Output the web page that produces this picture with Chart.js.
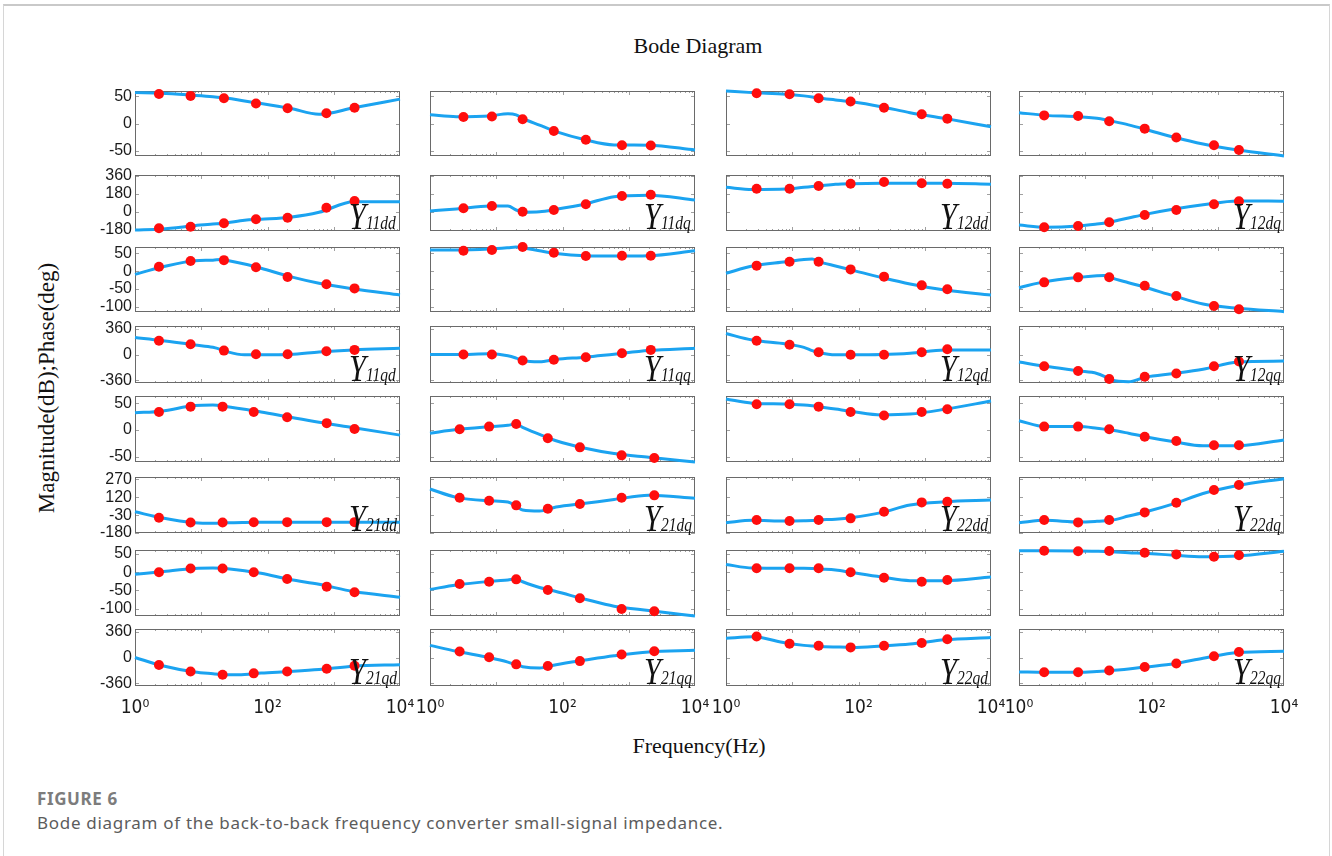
<!DOCTYPE html>
<html>
<head>
<meta charset="utf-8">
<title>Bode Diagram</title>
<script src="https://cdn.jsdelivr.net/npm/chart.js@4.4.0/dist/chart.umd.min.js"></script>
<style>
  body { margin: 0; width: 1332px; height: 856px; position: relative; overflow: hidden; background: #fff; }
  .frame { position: absolute; left: 3px; top: 4px; width: 1325px; height: 880px; border: 1px solid #d6d6d6; border-top: 2px solid #c9c9c9; }
  canvas { position: absolute; }
  .serif { position: absolute; font-family: "Liberation Serif", "Times New Roman", serif; color: #111; white-space: nowrap; }
  .ylab { position: absolute; font-family: "Liberation Serif", "Times New Roman", serif; font-style: italic; color: #111; white-space: nowrap; transform: scaleX(0.8); transform-origin: left top; }
  .caption { position: absolute; left: 37px; font-family: "Noto Sans", "Open Sans", sans-serif; white-space: nowrap; }
</style>
</head>
<body>
<div class="frame"></div>
<div class="serif" style="left:698px; top:35px; font-size:22px; line-height:22px; transform:translateX(-50%);">Bode Diagram</div>
<div class="serif" style="left:699px; top:735px; font-size:22px; line-height:22px; transform:translateX(-50%);">Frequency(Hz)</div>
<div class="serif" style="left:46px; top:388px; font-size:23px; line-height:23px; transform:translate(-50%,-50%) rotate(-90deg);">Magnitude(dB);Phase(deg)</div>
<div class="caption" style="top:787px; font-size:17px; font-weight:700; color:#7c7c7c; letter-spacing:0.6px;">FIGURE 6</div>
<div class="caption" style="top:811px; font-size:17px; color:#5c5c5c; letter-spacing:0.7px;">Bode diagram of the back-to-back frequency converter small-signal impedance.</div>

<script>
var freqCurve = [1, 2.5, 8, 15, 20, 25, 45, 80, 220, 600, 2000, 10000];
// frequencies of the red markers, per column (upper two blocks / lower two blocks)
var dotFreqTop = [
  [2.3, 6.9, 22, 67, 201, 775, 2060],
  [3.2, 8.6, 25, 74, 225, 790, 2150],
  [2.9, 9.1, 25, 76, 243, 900, 2190],
  [2.4, 7.8, 23, 79, 237, 877, 2090]
];
var dotFreqBottom = [
  [2.3, 6.9, 21, 62, 198, 783, 2060],
  [2.8, 7.8, 20, 60, 183, 780, 2430],
  [2.9, 9.1, 25, 76, 243, 900, 2190],
  [2.4, 7.8, 23, 79, 237, 877, 2090]
];

var xTickValues = [1, 100, 10000];
var xTickLabels = ['10\u2070', '10\u00b2', '10\u2074'];

// y range and ticks of each of the 8 rows (mag, phase, mag, phase ...)
var yRange = [[-60, 60], [-190, 365], [-115, 68], [-395, 395], [-60, 64], [-180, 290], [-120, 61], [-395, 395]];
var yTicks = [[-50, 0, 50], [-180, 0, 180, 360], [-100, -50, 0, 50], [-360, 0, 360],
              [-50, 0, 50], [-180, -30, 120, 270], [-100, -50, 0, 50], [-360, 0, 360]];

// magnitude (dB) / phase (deg) curves and markers
var mag11dd = [57, 56, 52, 49.5, 48, 46.5, 41.5, 37, 28, 17, 29, 45];
var mag11ddDots = [54.5, 51, 46.5, 37, 28, 19, 29];
var ph11dd = [-180, -170, -137, -120, -116, -108, -84, -74, -54, -5, 100, 100];
var ph11ddDots = [-163, -147, -114, -74, -58, 41, 107];

var mag11dq = [16, 12.5, 14, 18, 16, 9.5, -3, -15, -30, -39.5, -40, -49];
var mag11dqDots = [12, 13, 8, -14, -30, -40, -40.5];
var ph11dq = [8, 28, 58, 58, 18, -3, 1, 25, 78, 150, 165, 117];
var ph11dqDots = [35, 58, 1, 18, 75, 157, 170];

var mag12dd = [60, 57, 54, 51, 49, 47, 43.5, 40, 31, 20, 9.5, -6];
var mag12ddDots = [56, 54, 46.5, 40.5, 29, 17, 9];
var ph12dd = [243, 222, 226, 243, 250, 256, 273, 279, 283, 283, 283, 273];
var ph12ddDots = [229, 229, 256, 279, 295, 283, 279];

var mag12dq = [20, 15, 12.5, 9.5, 7, 4.5, -2.5, -10.5, -25.5, -38, -49, -60];
var mag12dqDots = [15, 14, 4, -9.5, -26, -40, -49];
var ph12dq = [-131, -153, -140, -121, -110, -98, -61, -25, 28, 70, 108, 105];
var ph12dqDots = [-153, -140, -104, -31, 18, 75, 105];

var mag11qd = [-9, 11, 29.5, 31, 33, 30, 20, 8, -15.5, -34, -50, -67];
var mag11qdDots = [12.5, 28.5, 31, 11, -16.5, -37, -48.5];
var ph11qd = [236, 195, 132, 100, 68, 36, -4, -4, 0, 36, 64, 86];
var ph11qdDots = [191, 141, 54, 4, 4, 45, 64];

var mag11qq = [59.5, 59.5, 62.5, 66, 68, 66, 57.5, 50, 43.5, 42.5, 43.5, 57.5];
var mag11qqDots = [57.5, 59.5, 68, 52, 42.5, 43.5, 43.5];
var ph11qq = [0, 0, 9, -18, -50, -82, -100, -68, -37, 5, 54, 86];
var ph11qqDots = [0, 0, -82, -73, -37, 18, 64];

var mag12qd = [-6, 14.5, 26.5, 33, 34, 27, 14.5, 3, -17.5, -36, -53, -67];
var mag12qdDots = [15.5, 26.5, 26.5, 5, -15.5, -40, -51];
var ph12qd = [290, 200, 146, 99, 54, 28, -4, -4, 0, 18, 63, 64];
var ph12qdDots = [191, 136, 32, -4, -4, 32, 72];

var mag12qq = [-46.5, -29.5, -17.5, -13, -12, -19, -32.5, -45.5, -70, -92.5, -104.5, -114];
var mag12qqDots = [-31.5, -17.5, -17, -41, -70, -98, -107.5];
var ph12qq = [-105, -164, -228, -263, -309, -354, -377, -315, -263, -204, -105, -91];
var ph12qqDots = [-164, -228, -340, -309, -263, -164, -96];

var mag21dd = [32.5, 35.5, 46, 47, 46, 44, 39, 34, 24, 14.5, 4.5, -9.5];
var mag21ddDots = [34, 44, 44, 34, 24, 13, 2];
var ph21dd = [-2, -52, -94, -99, -97, -94, -91, -90, -89, -89, -89, -89];
var ph21ddDots = [-52, -92, -92, -90, -89, -89, -89];

var mag21dq = [-6, 1, 6.5, 9, 11.5, 5, -8, -20, -34, -44, -51, -60];
var mag21dqDots = [1.5, 6.5, 11.5, -15.5, -32.5, -47.5, -52.5];
var ph21dq = [189, 119, 91, 80, 45, 13, 5, 38, 69, 101, 136, 111];
var ph21dqDots = [116, 91, 52, 24, 63, 116, 136];

var mag22dd = [58.5, 50.5, 49, 47, 45.5, 44, 39.5, 35, 28.5, 30, 39, 54.5];
var mag22ddDots = [48.5, 48.5, 44, 34, 27.5, 34, 39];
var ph22dd = [-94, -74, -80, -78, -76, -71, -64, -50, -9, 55, 82, 96];
var ph22ddDots = [-71, -80, -71, -57, -2, 77, 82];

var mag22dq = [17.5, 6.5, 6.5, 3.5, 1.5, 0, -6, -12.5, -22, -29.5, -29.5, -18.5];
var mag22dqDots = [6.5, 6.5, 1.5, -12.5, -20.5, -28.5, -28.5];
var ph22dq = [-94, -74, -88, -82, -77, -73, -38, -4, 67, 151, 218, 276];
var ph22dqDots = [-71, -91, -71, -7, 74, 181, 223];

var mag21qd = [-5.5, 1.5, 10.5, 11.5, 11, 9.5, 4, -3, -20, -33, -53, -68.5];
var mag21qdDots = [0, 10.5, 10.5, 0, -18.5, -39.5, -55];
var ph21qd = [0, -110, -200, -225, -235, -238, -234, -216, -193, -166, -121, -99];
var ph21qdDots = [-103, -193, -238, -220, -193, -157, -115];

var mag21qq = [-47, -35, -25, -21, -19, -26, -42, -53, -74, -93, -105, -120];
var mag21qqDots = [-32, -26, -19.5, -48.5, -71.5, -101, -107];
var ph21qq = [168, 86, -4, -64, -100, -127, -146, -100, -36, 23, 77, 99];
var ph21qqDots = [82, 4, -95, -118, -50, 41, 86];

var mag22qd = [21.5, 11.5, 11, 11, 10.5, 9, 6, -1, -13, -23, -23, -13];
var mag22qdDots = [11, 11, 11, 0, -15, -26, -21.5];
var ph22qd = [268, 286, 200, 168, 159, 154, 146, 140, 159, 186, 245, 277];
var ph22qdDots = [290, 191, 163, 140, 163, 200, 254];

var mag22qq = [59, 59, 58.5, 57.5, 57, 56.5, 53.5, 52, 46.5, 42.5, 44.5, 57.5];
var mag22qqDots = [59, 57.5, 58.5, 53.5, 49, 42.5, 46.5];
var ph22qq = [-200, -205, -205, -195, -188, -180, -160, -132, -86, -10, 70, 86];
var ph22qqDots = [-205, -205, -180, -132, -82, 18, 75];

// 4 blocks of 4 elements; each block is a magnitude row and a phase row
var blocks = [
  [['11dd', mag11dd, mag11ddDots, ph11dd, ph11ddDots], ['11dq', mag11dq, mag11dqDots, ph11dq, ph11dqDots],
   ['12dd', mag12dd, mag12ddDots, ph12dd, ph12ddDots], ['12dq', mag12dq, mag12dqDots, ph12dq, ph12dqDots]],
  [['11qd', mag11qd, mag11qdDots, ph11qd, ph11qdDots], ['11qq', mag11qq, mag11qqDots, ph11qq, ph11qqDots],
   ['12qd', mag12qd, mag12qdDots, ph12qd, ph12qdDots], ['12qq', mag12qq, mag12qqDots, ph12qq, ph12qqDots]],
  [['21dd', mag21dd, mag21ddDots, ph21dd, ph21ddDots], ['21dq', mag21dq, mag21dqDots, ph21dq, ph21dqDots],
   ['22dd', mag22dd, mag22ddDots, ph22dd, ph22ddDots], ['22dq', mag22dq, mag22dqDots, ph22dq, ph22dqDots]],
  [['21qd', mag21qd, mag21qdDots, ph21qd, ph21qdDots], ['21qq', mag21qq, mag21qqDots, ph21qq, ph21qqDots],
   ['22qd', mag22qd, mag22qdDots, ph22qd, ph22qdDots], ['22qq', mag22qq, mag22qqDots, ph22qq, ph22qqDots]]
];

// panel placement
var colLeft = [135, 430, 726, 1019];
var panelW = 265;
var rowTop = [91, 175, 247, 326, 396, 477, 550, 629];
var rowBottom = [156, 231, 312, 383, 462, 533, 616, 686];
var padX = 30, padY = 16;
var narrowFont = '"Liberation Sans Narrow", "DejaVu Sans Condensed", "Liberation Sans", Arial, sans-serif';
var plainFont = '"Liberation Sans", Arial, sans-serif';

// box with small inward ticks, like the matlab axes
var boxTicks = {
  id: 'boxTicks',
  beforeDatasetsDraw: function(chart) {
    var a = chart.chartArea, ctx = chart.ctx;
    var xs = chart.scales.x, ys = chart.scales.y;
    ctx.save();
    ctx.lineWidth = 1;
    ctx.strokeStyle = '#a0a0a0';
    ctx.beginPath();
    for (var d = 0; d < 4; d++) {
      for (var k = 1; k < 10; k++) {
        var px = Math.round(xs.getPixelForValue(k * Math.pow(10, d))) + 0.5;
        var len = k === 1 ? 4 : 2;
        ctx.moveTo(px, a.top); ctx.lineTo(px, a.top + len);
        ctx.moveTo(px, a.bottom); ctx.lineTo(px, a.bottom - len);
      }
    }
    ys.ticks.forEach(function(t) {
      var py = Math.round(ys.getPixelForValue(t.value)) + 0.5;
      ctx.moveTo(a.left, py); ctx.lineTo(a.left + 4, py);
      ctx.moveTo(a.right, py); ctx.lineTo(a.right - 4, py);
    });
    ctx.stroke();
    ctx.strokeStyle = '#6a6a6a';
    ctx.strokeRect(Math.round(a.left) + 0.5, Math.round(a.top) + 0.5,
                   Math.round(a.right - a.left) - 1, Math.round(a.bottom - a.top) - 1);
    ctx.restore();
  }
};

function makePanel(row, col, curve, dots, dotFreq) {
  var extraL = col === 0 ? 50 : 0;
  var extraB = row === 7 ? 40 : 0;
  var w = panelW + 2 * padX + extraL;
  var h = rowBottom[row] - rowTop[row] + 2 * padY + extraB;
  var cv = document.createElement('canvas');
  cv.width = w; cv.height = h;
  cv.style.width = w + 'px'; cv.style.height = h + 'px';
  cv.style.left = (colLeft[col] - padX - extraL) + 'px';
  cv.style.top = (rowTop[row] - padY) + 'px';
  document.body.appendChild(cv);

  new Chart(cv, {
    type: 'line',
    data: {
      datasets: [{
        data: dots.map(function(v, i) { return { x: dotFreq[i], y: v }; }),
        showLine: false,
        pointRadius: 5,
        pointBackgroundColor: '#ff0d0d',
        pointBorderWidth: 0,
        order: 0,
        clip: false
      }, {
        data: curve.map(function(v, i) { return { x: freqCurve[i], y: v }; }),
        borderColor: '#1ba3f0',
        borderWidth: 3,
        pointRadius: 0,
        cubicInterpolationMode: 'monotone',
        order: 1,
        clip: false
      }]
    },
    options: {
      responsive: false,
      devicePixelRatio: 1,
      animation: false,
      events: [],
      layout: { padding: { left: padX, right: padX, top: padY, bottom: padY } },
      plugins: { legend: { display: false }, tooltip: { enabled: false } },
      scales: {
        x: {
          type: 'logarithmic', min: 1, max: 10000,
          grid: { display: false, drawTicks: false },
          border: { display: false },
          afterBuildTicks: function(s) { s.ticks = xTickValues.map(function(v) { return { value: v }; }); },
          afterFit: function(s) { s.height = extraB; },
          ticks: {
            display: row === 7, autoSkip: false, maxRotation: 0, padding: 11,
            color: '#1a1a1a', font: { family: narrowFont, size: 19 },
            callback: function(v, i) { return xTickLabels[i]; }
          }
        },
        y: {
          min: yRange[row][0], max: yRange[row][1],
          grid: { display: false, drawTicks: false },
          border: { display: false },
          afterBuildTicks: function(s) { s.ticks = yTicks[row].map(function(v) { return { value: v }; }); },
          afterFit: function(s) { s.width = extraL; },
          ticks: {
            display: col === 0, autoSkip: false, padding: 3,
            color: '#1a1a1a', font: { family: plainFont, size: 16 },
            callback: function(v) { return String(v); }
          }
        }
      }
    },
    plugins: [boxTicks]
  });
}

function addLabel(row, col, name) {
  var y = document.createElement('div');
  y.className = 'ylab';
  y.style.left = (colLeft[col] + 214) + 'px';
  y.style.top = (rowBottom[row] - 34) + 'px';
  y.style.fontSize = '38px';
  y.style.lineHeight = '38px';
  y.textContent = 'Y';
  document.body.appendChild(y);
  var s = document.createElement('div');
  s.className = 'ylab';
  s.style.left = (colLeft[col] + 231) + 'px';
  s.style.top = (rowBottom[row] - 17) + 'px';
  s.style.fontSize = '18px';
  s.style.lineHeight = '18px';
  s.style.transform = 'scaleX(0.86)';
  s.textContent = name;
  document.body.appendChild(s);
}

blocks.forEach(function(block, b) {
  block.forEach(function(el, col) {
    var fr = b < 2 ? dotFreqTop[col] : dotFreqBottom[col];
    makePanel(2 * b, col, el[1], el[2], fr);
    makePanel(2 * b + 1, col, el[3], el[4], fr);
    addLabel(2 * b + 1, col, el[0]);
  });
});
</script>
</body>
</html>
